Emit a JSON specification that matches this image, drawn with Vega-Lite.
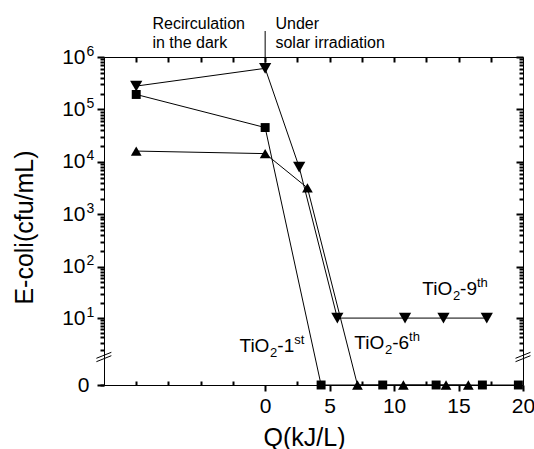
{
  "$schema": "https://vega.github.io/schema/vega-lite/v6.json",
  "width": 419,
  "height": 328,
  "autosize": {"type": "none"},
  "padding": {"left": 104, "top": 57, "right": 11, "bottom": 64},
  "background": "white",
  "config": {
    "view": {"stroke": "black", "strokeWidth": 1},
    "font": "Liberation Sans",
    "axis": {
      "grid": false,
      "ticks": true,
      "domainColor": "black",
      "tickColor": "black",
      "labelColor": "black",
      "titleColor": "black",
      "labelFont": "Liberation Sans",
      "titleFont": "Liberation Sans",
      "titleFontWeight": "normal",
      "domainWidth": 1,
      "tickWidth": 2,
      "labelFlush": false,
      "labelOverlap": false
    }
  },
  "data": {
    "values": [
      {"series": "TiO2-1st", "Q": -10, "E": 193000},
      {"series": "TiO2-1st", "Q": 0, "E": 45200},
      {"series": "TiO2-1st", "Q": 4.34, "E": 0},
      {"series": "TiO2-1st", "Q": 9.12, "E": 0},
      {"series": "TiO2-1st", "Q": 13.26, "E": 0},
      {"series": "TiO2-1st", "Q": 16.85, "E": 0},
      {"series": "TiO2-1st", "Q": 19.64, "E": 0},
      {"series": "TiO2-6th", "Q": -10, "E": 16100},
      {"series": "TiO2-6th", "Q": 0, "E": 14400},
      {"series": "TiO2-6th", "Q": 3.28, "E": 3200},
      {"series": "TiO2-6th", "Q": 7.16, "E": 0},
      {"series": "TiO2-6th", "Q": 10.72, "E": 0},
      {"series": "TiO2-6th", "Q": 14.03, "E": 0},
      {"series": "TiO2-6th", "Q": 15.76, "E": 0},
      {"series": "TiO2-9th", "Q": -10, "E": 279000},
      {"series": "TiO2-9th", "Q": 0, "E": 608000},
      {"series": "TiO2-9th", "Q": 2.64, "E": 7950},
      {"series": "TiO2-9th", "Q": 5.6, "E": 10},
      {"series": "TiO2-9th", "Q": 10.85, "E": 10},
      {"series": "TiO2-9th", "Q": 13.83, "E": 10},
      {"series": "TiO2-9th", "Q": 17.19, "E": 10}
    ]
  },
  "resolve": {"axis": {"x": "independent", "y": "independent"}},
  "layer": [
    {
      "mark": {"type": "line", "color": "black", "strokeWidth": 1},
      "encoding": {
        "x": {
          "field": "Q", "type": "quantitative",
          "scale": {"domain": [-12.5, 20], "nice": false, "zero": false},
          "axis": {
            "orient": "bottom",
            "values": [0, 5, 10, 15, 20],
            "tickSize": 6,
            "labelFontSize": 21,
            "labelPadding": 4,
            "title": "Q(kJ/L)",
            "titleFontSize": 25,
            "titleX": 200,
            "titleY": 52,
            "titleBaseline": "middle"
          }
        },
        "y": {
          "field": "E", "type": "quantitative",
          "scale": {"type": "symlog", "constant": 0.56, "domain": [0, 1000000], "nice": false, "zero": false},
          "axis": {
            "orient": "left",
            "values": [0, 10, 100, 1000, 10000, 100000, 1000000],
            "labelExpr": "datum.value == 0 ? '' : '10'",
            "tickSize": 7,
            "labelFontSize": 21,
            "labelPadding": 12,
            "labelBaseline": "middle",
            "title": "E-coli(cfu/mL)",
            "titleFontSize": 25,
            "titleX": -80,
            "titleY": 170,
            "titleBaseline": "middle"
          }
        },
        "detail": {"field": "series", "type": "nominal"},
        "order": {"field": "Q", "type": "quantitative"}
      }
    },
    {
      "mark": {"type": "point", "filled": true, "opacity": 1, "color": "black"},
      "encoding": {
        "x": {
          "field": "Q", "type": "quantitative",
          "axis": {
            "orient": "bottom",
            "values": [-10, -7.5, -5, -2.5, 2.5, 7.5, 12.5, 17.5],
            "labels": false,
            "domain": false,
            "tickSize": 4,
            "offset": -4,
            "title": null
          }
        },
        "y": {
          "field": "E", "type": "quantitative",
          "axis": {
            "orient": "left",
            "values": [0, 2, 3, 4, 5, 6, 7, 8, 9, 20, 30, 40, 50, 60, 70, 80, 90, 200, 300, 400, 500, 600, 700, 800, 900, 2000, 3000, 4000, 5000, 6000, 7000, 8000, 9000, 20000, 30000, 40000, 50000, 60000, 70000, 80000, 90000, 200000, 300000, 400000, 500000, 600000, 700000, 800000, 900000],
            "labelExpr": "datum.value == 0 ? '0' : ''",
            "labelFontSize": 21,
            "labelPadding": 11,
            "labelBaseline": "middle",
            "domain": false,
            "tickSize": 4,
            "title": null
          }
        },
        "shape": {
          "field": "series", "type": "nominal",
          "scale": {"domain": ["TiO2-1st", "TiO2-6th", "TiO2-9th"], "range": ["square", "triangle-up", "triangle-down"]},
          "legend": null
        },
        "size": {
          "field": "series", "type": "ordinal",
          "scale": {"domain": ["TiO2-1st", "TiO2-6th", "TiO2-9th"], "range": [80, 150, 150]},
          "legend": null
        }
      }
    },
    {
      "data": {"values": [{}]},
      "mark": {"type": "rule", "color": "black", "strokeWidth": 1},
      "encoding": {
        "x": {
          "datum": 0, "type": "quantitative",
          "axis": {
            "orient": "top",
            "values": [-10, -7.5, -5, -2.5, 0, 2.5, 5, 7.5, 10, 12.5, 15, 17.5],
            "labels": false,
            "domain": false,
            "tickSize": 5,
            "offset": -5,
            "title": null
          }
        },
        "y": {
          "datum": 3130000, "type": "quantitative",
          "axis": {
            "orient": "left",
            "values": [10, 100, 1000, 10000, 100000, 1000000],
            "labelExpr": "'' + round(log(datum.value) / LN10)",
            "labelFontSize": 14,
            "labelAlign": "left",
            "labelBaseline": "middle",
            "labelOffset": -6,
            "labelPadding": 18,
            "ticks": false,
            "domain": false,
            "title": null
          }
        },
        "y2": {"datum": 608000}
      }
    },
    {
      "data": {"values": [{}]},
      "mark": {"type": "rule", "color": "black", "strokeWidth": 1},
      "encoding": {
        "x": {"datum": -13.09, "type": "quantitative", "axis": null},
        "x2": {"datum": -11.93},
        "y": {
          "datum": 0.997, "type": "quantitative",
          "axis": {
            "orient": "right",
            "values": [10, 100, 1000, 10000, 100000, 1000000],
            "labels": false,
            "domain": false,
            "tickSize": 7,
            "offset": -7,
            "title": null
          }
        },
        "y2": {"datum": 1.466}
      }
    },
    {
      "data": {"values": [{}]},
      "mark": {"type": "rule", "color": "black", "strokeWidth": 1},
      "encoding": {
        "x": {"datum": -13.09, "type": "quantitative", "axis": null},
        "x2": {"datum": -11.93},
        "y": {
          "datum": 1.248, "type": "quantitative",
          "axis": {
            "orient": "right",
            "values": [2, 3, 4, 5, 6, 7, 8, 9, 20, 30, 40, 50, 60, 70, 80, 90, 200, 300, 400, 500, 600, 700, 800, 900, 2000, 3000, 4000, 5000, 6000, 7000, 8000, 9000, 20000, 30000, 40000, 50000, 60000, 70000, 80000, 90000, 200000, 300000, 400000, 500000, 600000, 700000, 800000, 900000],
            "labels": false,
            "domain": false,
            "tickSize": 4,
            "offset": -4,
            "title": null
          }
        },
        "y2": {"datum": 1.792}
      }
    },
    {
      "data": {"values": [{}]},
      "mark": {"type": "rule", "color": "black", "strokeWidth": 1},
      "encoding": {
        "x": {"datum": 19.42, "type": "quantitative", "axis": null},
        "x2": {"datum": 20.58},
        "y": {"datum": 0.997, "type": "quantitative", "axis": null},
        "y2": {"datum": 1.466}
      }
    },
    {
      "data": {"values": [{}]},
      "mark": {"type": "rule", "color": "black", "strokeWidth": 1},
      "encoding": {
        "x": {"datum": 19.42, "type": "quantitative", "axis": null},
        "x2": {"datum": 20.58},
        "y": {"datum": 1.248, "type": "quantitative", "axis": null},
        "y2": {"datum": 1.792}
      }
    },
    {
      "data": {"values": [{}]},
      "mark": {"type": "text", "align": "left", "baseline": "alphabetic", "fontSize": 16, "lineHeight": 19, "color": "black", "font": "Liberation Sans"},
      "encoding": {
        "x": {"datum": -8.74, "type": "quantitative", "axis": null},
        "y": {"datum": 3370000, "type": "quantitative", "axis": null},
        "text": {"value": ["Recirculation", "in the dark"]}
      }
    },
    {
      "data": {"values": [{}]},
      "mark": {"type": "text", "align": "left", "baseline": "alphabetic", "fontSize": 16, "lineHeight": 19, "color": "black", "font": "Liberation Sans"},
      "encoding": {
        "x": {"datum": 0.8, "type": "quantitative", "axis": null},
        "y": {"datum": 3370000, "type": "quantitative", "axis": null},
        "text": {"value": ["Under", "solar irradiation"]}
      }
    },
    {
      "data": {"values": [{}]},
      "encoding": {
        "x": {"datum": -1.99, "type": "quantitative", "axis": null},
        "y": {"datum": 1.823, "type": "quantitative", "axis": null}
      },
      "layer": [
        {"mark": {"type": "text", "align": "left", "baseline": "alphabetic", "fontSize": 19, "color": "black", "font": "Liberation Sans"}, "encoding": {"text": {"value": "TiO"}}},
        {"mark": {"type": "text", "align": "left", "baseline": "alphabetic", "fontSize": 13, "dx": 30.6, "dy": 5, "color": "black", "font": "Liberation Sans"}, "encoding": {"text": {"value": "2"}}},
        {"mark": {"type": "text", "align": "left", "baseline": "alphabetic", "fontSize": 19, "dx": 37.8, "color": "black", "font": "Liberation Sans"}, "encoding": {"text": {"value": "-1"}}},
        {"mark": {"type": "text", "align": "left", "baseline": "alphabetic", "fontSize": 13, "dx": 54.7, "dy": -8, "color": "black", "font": "Liberation Sans"}, "encoding": {"text": {"value": "st"}}}
      ]
    },
    {
      "data": {"values": [{}]},
      "encoding": {
        "x": {"datum": 6.92, "type": "quantitative", "axis": null},
        "y": {"datum": 2.159, "type": "quantitative", "axis": null}
      },
      "layer": [
        {"mark": {"type": "text", "align": "left", "baseline": "alphabetic", "fontSize": 19, "color": "black", "font": "Liberation Sans"}, "encoding": {"text": {"value": "TiO"}}},
        {"mark": {"type": "text", "align": "left", "baseline": "alphabetic", "fontSize": 13, "dx": 30.6, "dy": 5, "color": "black", "font": "Liberation Sans"}, "encoding": {"text": {"value": "2"}}},
        {"mark": {"type": "text", "align": "left", "baseline": "alphabetic", "fontSize": 19, "dx": 37.8, "color": "black", "font": "Liberation Sans"}, "encoding": {"text": {"value": "-6"}}},
        {"mark": {"type": "text", "align": "left", "baseline": "alphabetic", "fontSize": 13, "dx": 54.7, "dy": -8, "color": "black", "font": "Liberation Sans"}, "encoding": {"text": {"value": "th"}}}
      ]
    },
    {
      "data": {"values": [{}]},
      "encoding": {
        "x": {"datum": 12.19, "type": "quantitative", "axis": null},
        "y": {"datum": 28.5, "type": "quantitative", "axis": null}
      },
      "layer": [
        {"mark": {"type": "text", "align": "left", "baseline": "alphabetic", "fontSize": 19, "color": "black", "font": "Liberation Sans"}, "encoding": {"text": {"value": "TiO"}}},
        {"mark": {"type": "text", "align": "left", "baseline": "alphabetic", "fontSize": 13, "dx": 30.6, "dy": 5, "color": "black", "font": "Liberation Sans"}, "encoding": {"text": {"value": "2"}}},
        {"mark": {"type": "text", "align": "left", "baseline": "alphabetic", "fontSize": 19, "dx": 37.8, "color": "black", "font": "Liberation Sans"}, "encoding": {"text": {"value": "-9"}}},
        {"mark": {"type": "text", "align": "left", "baseline": "alphabetic", "fontSize": 13, "dx": 54.7, "dy": -8, "color": "black", "font": "Liberation Sans"}, "encoding": {"text": {"value": "th"}}}
      ]
    }
  ]
}
